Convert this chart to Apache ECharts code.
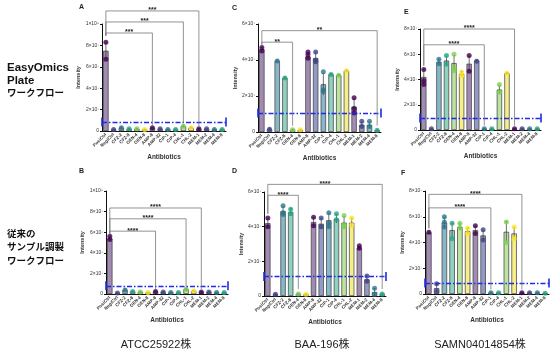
<!DOCTYPE html>
<html>
<head>
<meta charset="utf-8">
<script src="https://cdn.jsdelivr.net/npm/echarts@6/dist/echarts.min.js"></script>
<style>
html,body{margin:0;padding:0;background:#fff;}
#main{width:553px;height:352px;}
</style>
</head>
<body>
<div id="main"></div>
<script>
// categories (same for all six panels), values in units of 10^7
var cats = ['PosiCtrl','NegiCtrl','CFZ-2','CFZ-8','GEN-4','GEN-8','AMP-8','AMP-32','CIP-1','CIP-4','CHL-1','CHL-2','MEM-1','MEM-2','MEM-4','MEM-8'];
var dotColors = ['#440154','#414487','#2a788e','#22a884','#7ad151','#fde725'];
var barFills = ['#a18bb2','#939ac6','#88b7c9','#90d2c0','#bce3a2','#f6ee8a'];

// A: EasyOmics, ATCC25922
var aMean = [7.5,0.15,0.3,0.2,0.2,0.15,0.3,0.2,0.15,0.15,0.45,0.3,0.2,0.2,0.15,0.15];
var aSd   = [0.8,0.03,0.05,0.03,0.03,0.03,0.05,0.03,0.03,0.03,0.1,0.05,0.03,0.03,0.03,0.03];
var aReps = [[8.3,6.7],[0.15],[0.3],[0.2],[0.2],[0.15],[0.3],[0.2],[0.15],[0.15],[0.45],[0.3],[0.2],[0.2],[0.15],[0.15]];
// B: conventional, ATCC25922
var bMean = [5.4,0.1,0.4,0.25,0.2,0.15,0.25,0.2,0.15,0.15,0.45,0.3,0.2,0.2,0.15,0.15];
var bSd   = [0.2,0.03,0.1,0.03,0.03,0.03,0.05,0.03,0.03,0.03,0.1,0.05,0.03,0.03,0.03,0.03];
var bReps = [[5.6,5.3],[0.1],[0.4],[0.25],[0.2],[0.15],[0.25],[0.2],[0.15],[0.15],[0.45],[0.3],[0.2],[0.2],[0.15],[0.15]];
// C: EasyOmics, BAA-196
var cMean = [4.6,0.15,3.95,3.0,0.12,0.12,4.2,4.1,2.65,3.2,3.15,3.4,1.4,0.4,0.4,0.1];
var cSd   = [0.1,0.05,0.05,0.05,0.02,0.02,0.15,0.3,0.6,0.05,0.05,0.05,0.45,0.15,0.15,0.02];
var cReps = [[4.7,4.5],[0.15],[3.95],[3.0],[0.12],[0.12],[4.45,4.3,4.1],[4.45,4.0,3.9],[3.35,2.35,2.25],[3.2],[3.15],[3.4],[1.9,1.05,1.3],[0.6,0.3],[0.6,0.3],[0.1]];
// D: conventional, BAA-196
var dMean = [4.2,0.1,4.9,4.85,0.12,0.1,4.27,4.17,4.37,4.46,4.23,4.23,2.77,0.96,0.23,0.12];
var dSd   = [0.25,0.05,0.25,0.2,0.02,0.02,0.25,0.3,0.4,0.25,0.35,0.25,0.1,0.2,0.2,0.02];
var dReps = [[4.5,4.0],[0.1],[5.2,4.8,4.7],[5.0,4.75],[0.12],[0.1],[4.55,4.05],[4.5,4.0],[4.8,4.2,4.0],[4.75,4.4],[4.65,4.1,4.0],[4.5,4.1],[2.9,2.75],[1.15,0.85],[0.45,0.1],[0.12]];
// E: EasyOmics, SAMN04014854
var eMean = [4.2,0.1,5.4,5.5,5.3,4.45,5.25,5.5,0.1,0.1,3.2,4.5,0.1,0.1,0.1,0.1];
var eSd   = [0.6,0.02,0.2,0.35,0.6,0.2,0.6,0.05,0.02,0.02,0.3,0.05,0.02,0.02,0.02,0.02];
var eReps = [[4.8,3.6,3.9],[0.1],[5.6,5.25],[5.9,5.2],[6.0,4.9,4.7],[4.6,4.3],[5.9,4.65],[5.45],[0.1],[0.1],[3.6,3.0],[4.5],[0.1],[0.1],[0.1],[0.1]];
// F: conventional, SAMN04014854
var fMean = [4.78,0.45,5.55,4.96,5.2,4.88,4.96,4.55,0.1,0.1,4.83,4.7,0.1,0.1,0.1,0.05];
var fSd   = [0.1,0.3,0.4,0.55,0.25,0.25,0.3,0.4,0.02,0.02,0.8,0.45,0.02,0.02,0.02,0.02];
var fReps = [[4.8],[0.8,0.2],[6.0,5.6,5.2],[5.5,4.3],[5.5,5.15],[5.1,4.7],[5.3,4.7],[5.0,4.2],[0.1],[0.1],[5.6,4.0],[5.2,4.3],[0.1],[0.1],[0.1],[0.05]];

// detection cutoff (blue dash-dot line), per panel A..F
var cutoff = [0.85, 0.8, 1.05, 1.13, 0.95, 0.85];
// significance brackets: [target index, bracket height, left leg end, right leg end]
var aBr = [[6,9.16,8.9,0.55],[10,10.19,8.9,0.75],[12,11.22,8.9,0.45]];
var bBr = [[6,6.1,5.85,0.5],[10,7.3,5.85,0.75],[12,8.35,5.85,0.45]];
var cBr = [[4,4.99,4.85,0.35],[15,5.63,4.85,0.35]];
var dBr = [[4,5.81,4.75,0.4],[15,6.44,4.75,0.4]];
var eBr = [[8,6.75,5.1,0.35],[12,8.0,5.1,0.35]];
var fBr = [[8,6.69,5.1,0.35],[12,7.74,5.1,0.35]];

var panels = [
  {mean:aMean, sd:aSd, reps:aReps, br:aBr, stars:'***',  max:10, cut:cutoff[0], gap:21, grid:{left:102,top:24,width:124,height:107}},
  {mean:bMean, sd:bSd, reps:bReps, br:bBr, stars:'****', max:10, cut:cutoff[1], gap:21, grid:{left:106,top:191,width:122,height:103}},
  {mean:cMean, sd:cSd, reps:cReps, br:cBr, stars:'**',   max:6,  cut:cutoff[2], gap:19, grid:{left:258,top:24,width:123,height:108}},
  {mean:dMean, sd:dSd, reps:dReps, br:dBr, stars:'****', max:6,  cut:cutoff[3], gap:18, grid:{left:264,top:192,width:122,height:104}},
  {mean:eMean, sd:eSd, reps:eReps, br:eBr, stars:'****', max:8,  cut:cutoff[4], gap:17, grid:{left:420,top:29,width:121,height:101}},
  {mean:fMean, sd:fSd, reps:fReps, br:fBr, stars:'****', max:8,  cut:cutoff[5], gap:18, grid:{left:425,top:191,width:124,height:103}}
];

function yLabel(v) {
  if (v === 0) return '0';
  if (v === 10) return '1×10⁸';
  return v + '×10⁷';
}

function errItem(params, api) {
  var i = api.value(0), m = api.value(1), s = api.value(2);
  var hi = api.coord([i, m + s]);
  var lo = api.coord([i, Math.max(0, m - s)]);
  var w = api.size([1, 0])[0] * 0.16;
  var st = {stroke:'#333', lineWidth:0.7};
  return {type:'group', children:[
    {type:'line', shape:{x1:hi[0], y1:hi[1], x2:lo[0], y2:lo[1]}, style:st},
    {type:'line', shape:{x1:hi[0]-w, y1:hi[1], x2:hi[0]+w, y2:hi[1]}, style:st}
  ]};
}

function bracketFn(stars) {
  return function (params, api) {
    var to = api.value(0), top = api.value(1);
    var p0 = api.coord([0, api.value(2)]);
    var p1 = api.coord([0, top]);
    var p2 = api.coord([to, top]);
    var p3 = api.coord([to, api.value(3)]);
    return {type:'group', children:[
      {type:'polyline', shape:{points:[p0, p1, p2, p3]}, style:{stroke:'#777', lineWidth:0.8, fill:null}},
      {type:'text', x:(p1[0] + p2[0]) / 2, y:p1[1] - 0.5,
       style:{text:stars, fontSize:7, fontWeight:'bold', fill:'#222', align:'center', verticalAlign:'middle', fontFamily:'Liberation Sans'}}
    ]};
  };
}

var grids = [], xAxes = [], yAxes = [], series = [];
panels.forEach(function (p, k) {
  grids.push(p.grid);
  xAxes.push({
    type:'category', gridIndex:k, data:cats,
    name:'Antibiotics', nameLocation:'middle', nameGap:23,
    nameTextStyle:{fontSize:6.5, fontWeight:'bold', color:'#333', fontFamily:'Liberation Sans'},
    axisLine:{lineStyle:{color:'#111', width:1}},
    axisTick:{alignWithLabel:true, length:2, lineStyle:{color:'#111'}},
    axisLabel:{interval:0, rotate:45, fontSize:4.5, fontWeight:'bold', color:'#333', margin:3, fontFamily:'Liberation Sans'}
  });
  yAxes.push({
    type:'value', gridIndex:k, min:0, max:p.max, interval:2,
    name:'Intensity', nameLocation:'middle', nameGap:p.gap,
    nameTextStyle:{fontSize:5.5, fontWeight:'bold', color:'#333', fontFamily:'Liberation Sans'},
    axisLine:{show:true, lineStyle:{color:'#111', width:1}},
    axisTick:{show:true, length:2, lineStyle:{color:'#111'}},
    splitLine:{show:false},
    axisLabel:{formatter:yLabel, fontSize:5, color:'#333', margin:3, fontFamily:'Liberation Sans'}
  });
  series.push({
    type:'bar', xAxisIndex:k, yAxisIndex:k, data:p.mean, barWidth:'70%', z:2,
    itemStyle:{color:function (d) { return barFills[d.dataIndex % 6]; }, borderColor:'#3a3a3a', borderWidth:0.7}
  });
  series.push({
    type:'custom', xAxisIndex:k, yAxisIndex:k, z:3, renderItem:errItem,
    encode:{x:0, y:1},
    data:p.mean.map(function (m, i) { return [i, m, p.sd[i]]; })
  });
  var dots = [];
  p.reps.forEach(function (r, i) {
    r.forEach(function (v) {
      dots.push({value:[i, v], itemStyle:{color:dotColors[i % 6]}});
    });
  });
  series.push({
    type:'scatter', xAxisIndex:k, yAxisIndex:k, z:4, symbolSize:5, data:dots,
    markLine:{
      silent:true, symbol:['rect','rect'], symbolSize:[9,1.6], label:{show:false},
      lineStyle:{color:'#1d2be8', width:1.4, type:[5,2,1.5,2]},
      data:[{yAxis:p.cut}]
    }
  });
  series.push({
    type:'custom', xAxisIndex:k, yAxisIndex:k, z:5, renderItem:bracketFn(p.stars),
    encode:{x:0, y:1}, clip:false, data:p.br
  });
});

var letterStyle = {fontSize:7, fontWeight:'bold', fill:'#222', fontFamily:'Liberation Sans'};
var rowStyle = {fontSize:11.5, fontWeight:'bold', fill:'#111', fontFamily:'Liberation Sans, Noto Sans CJK JP'};
var jpStyle = {fontSize:9.5, fontWeight:'bold', fill:'#111', fontFamily:'Noto Sans CJK JP'};
var strainStyle = {fontSize:11, fill:'#222', fontFamily:'Liberation Sans, Noto Sans CJK JP', align:'center', verticalAlign:'middle'};

var graphics = [
  {type:'text', left:79, top:4, style:Object.assign({text:'A'}, letterStyle)},
  {type:'text', left:79, top:168, style:Object.assign({text:'B'}, letterStyle)},
  {type:'text', left:232, top:5, style:Object.assign({text:'C'}, letterStyle)},
  {type:'text', left:232, top:168, style:Object.assign({text:'D'}, letterStyle)},
  {type:'text', left:404, top:9, style:Object.assign({text:'E'}, letterStyle)},
  {type:'text', left:401, top:170, style:Object.assign({text:'F'}, letterStyle)},
  {type:'text', left:7, top:62, style:Object.assign({text:'EasyOmics'}, rowStyle)},
  {type:'text', left:7, top:75, style:Object.assign({text:'Plate'}, rowStyle)},
  {type:'text', left:7, top:88, style:Object.assign({text:'ワークフロー'}, jpStyle)},
  {type:'text', left:7, top:229, style:Object.assign({text:'従来の'}, jpStyle)},
  {type:'text', left:7, top:242, style:Object.assign({text:'サンプル調製'}, jpStyle)},
  {type:'text', left:7, top:256, style:Object.assign({text:'ワークフロー'}, jpStyle)},
  {type:'text', x:156, y:345, style:Object.assign({text:'ATCC25922株'}, strainStyle)},
  {type:'text', x:322, y:345, style:Object.assign({text:'BAA-196株'}, strainStyle)},
  {type:'text', x:480, y:345, style:Object.assign({text:'SAMN04014854株'}, strainStyle)}
];

var myChart = echarts.init(document.getElementById('main'), null, {renderer:'canvas'});
myChart.setOption({
  backgroundColor:'#fff',
  animation:false,
  grid:grids,
  xAxis:xAxes,
  yAxis:yAxes,
  series:series,
  graphic:graphics
});
</script>
</body>
</html>
